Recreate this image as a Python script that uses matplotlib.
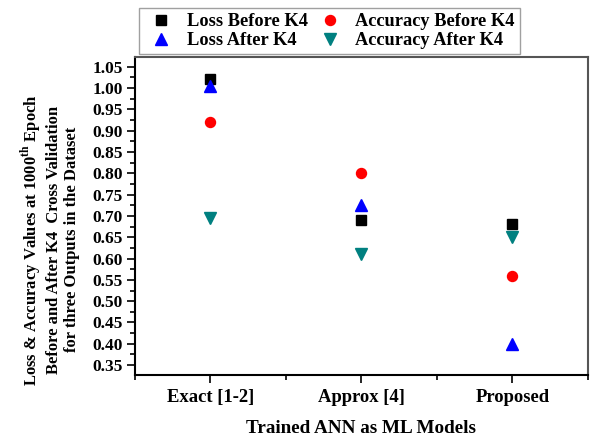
import matplotlib
matplotlib.use("Agg")
import matplotlib.pyplot as plt
from matplotlib.ticker import MultipleLocator, FixedLocator

# values
models = ["Exact [1-2]", "Approx [4]", "Proposed"]
loss_before = [1.02, 0.69, 0.68]
acc_before = [0.92, 0.80, 0.56]
loss_after = [1.005, 0.725, 0.40]
acc_after = [0.695, 0.61, 0.65]

plt.rcParams["font.family"] = ["Liberation Serif", "DejaVu Serif"]
plt.rcParams["font.weight"] = "bold"
plt.rcParams["mathtext.fontset"] = "custom"
plt.rcParams["mathtext.rm"] = "Liberation Serif:bold"
plt.rcParams["mathtext.bf"] = "Liberation Serif:bold"


def main():
    fig = plt.figure(figsize=(5.92, 4.37), dpi=100)
    ax = fig.add_axes([0.228, 0.142, 0.765, 0.728])

    x = [i + 1 for i in range(len(models))]
    h1, = ax.plot(x, loss_before, "s", color="black", ms=7, ls="none")
    h2, = ax.plot(x, acc_before, "o", color="red", ms=7.2, ls="none")
    h3, = ax.plot(x, loss_after, "^", color="blue", ms=8.5, ls="none")
    h4, = ax.plot(x, acc_after, "v", color="#008080", ms=8.5, ls="none")

    ax.set_xlim(0.5, 3.5)
    ax.set_ylim(0.327, 1.073)
    ax.set_xticks(x)
    ax.set_xticklabels(models, fontsize=13.4, fontweight="bold")
    ax.xaxis.set_minor_locator(FixedLocator([0.5, 1.5, 2.5, 3.5]))
    ax.yaxis.set_major_locator(MultipleLocator(0.05))
    ax.yaxis.set_minor_locator(MultipleLocator(0.025))
    ax.yaxis.set_major_formatter(plt.FormatStrFormatter("%.2f"))
    for lab in ax.get_yticklabels():
        lab.set_fontsize(12.5)
        lab.set_fontweight("bold")

    ax.tick_params(which="major", direction="out", length=6, width=1.2,
                   top=False, right=False)
    ax.tick_params(which="minor", direction="out", length=3.5, width=1.2,
                   top=False, right=False)
    ax.tick_params(axis="x", pad=4)
    ax.tick_params(axis="y", pad=3)

    for side in ["left", "bottom"]:
        ax.spines[side].set_linewidth(1.5)
        ax.spines[side].set_color("black")
    for side in ["top", "right"]:
        ax.spines[side].set_linewidth(1.5)
        ax.spines[side].set_color("#555555")

    ax.set_xlabel("Trained ANN as ML Models", fontsize=13.75, fontweight="bold",
                  labelpad=10)
    ax.set_ylabel("Loss & Accuracy Values at 1000$^{\\rm th}$ Epoch\n"
                  "Before and After K4  Cross Validation\n"
                  "for three Outputs in the Dataset",
                  fontsize=12, fontweight="bold", linespacing=1.2)
    ax.yaxis.set_label_coords(-0.121, 0.425)

    leg = fig.legend([h1, h3, h2, h4],
                     ["Loss Before K4", "Loss After K4",
                      "Accuracy Before K4", "Accuracy After K4"],
                     ncol=2, loc="upper left",
                     bbox_to_anchor=(139 / 592, 1 - 8 / 437),
                     prop={"weight": "bold", "size": 13.2},
                     frameon=True, fancybox=False, edgecolor="#888888",
                     borderaxespad=0, borderpad=0.3, labelspacing=0.08,
                     handletextpad=0.5, columnspacing=0.3, handlelength=1.8)
    leg.get_frame().set_linewidth(1.0)

    fig.savefig("out.png", dpi=100)
    plt.close(fig)


if __name__ == '__main__':
    main()
